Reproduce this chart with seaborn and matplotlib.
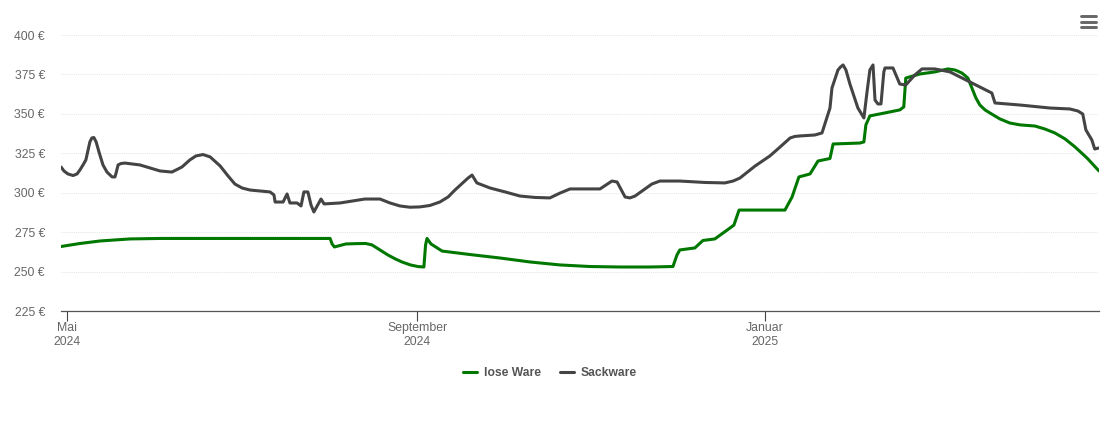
import pandas as pd
import seaborn as sns
import matplotlib.pyplot as plt
import matplotlib.dates as mdates
from matplotlib.lines import Line2D

start = pd.Timestamp("2024-05-01")

# days after 1 May 2024, price in euro
lose_days = [-1.9, 4.7, 11.8, 22.3, 33, 92.5, 93.2, 94, 98, 101.2, 105, 107.2, 110, 112.8, 115.4, 117.7, 120.7, 123.3, 125.4, 126, 126.5, 127.9, 131.8,
             141.6, 152.1, 162.6, 173.2, 183.7, 194.2, 204.7,
             212.8, 214.2, 215.2, 220.5, 223.3, 227.5, 232.8, 234.2, 236, 252.1, 254.6, 257, 260.9, 263.7, 267.9, 269,
             278.4, 279.8, 280.5, 281.9, 287.2, 292.4, 293.8, 294.5, 299.5, 304.7, 309.3, 311.8, 314.2, 316.3, 317.7, 319.1, 320.5, 322.3, 324, 327.5,
             331, 334.6, 339.8, 343.3, 346.8, 350.4, 353.9, 358.1, 362.3]
lose_price = [265.9, 267.8, 269.4, 270.7, 271, 271, 267.5, 265.6, 267.5, 267.7, 267.8, 266.9, 263.7, 260.5, 258, 256.1, 254.2, 253.2, 252.9, 266.9, 271, 267.5, 263,
              260.8, 258.6, 256.1, 254.2, 253.2, 252.9, 252.9,
              253.2, 260.5, 263.7, 265, 269.7, 270.7, 277.6, 279.5, 289, 289, 297.3, 310, 311.9, 320.1, 321.7, 330.9,
              331.5, 332.2, 343, 348.7, 350.6, 352.5, 354.4, 372.7, 375.3, 376.6, 378.5, 377.8, 375.9, 372.7, 366.4, 360.1, 355.6, 352.5, 350.6, 346.8,
              344.2, 343, 342.3, 340.4, 337.9, 334.1, 329, 322, 313.8]

sack_days = [-1.9, -0.9, 0.5, 2.3, 3.7, 4.7, 5.8, 6.8, 7.5, 8.2, 8.9, 9.6, 10.4, 11.4, 12.8, 14.2, 16, 17, 17.4, 18.1, 19.1, 20.5, 25.8, 32.8, 37, 40.5, 43.3, 45.4, 47.9, 50.4, 53.9, 56.7, 59.1, 61.6, 64.4,
             71.4, 72.8, 73.2, 76, 77.4, 78.4, 80.9, 82.3, 83.3, 84.7, 85.8, 86.8, 89.3, 90.4, 96, 104.7, 110, 113.5, 117, 120.5, 124, 127.5,
             131, 133.9, 136.3, 140.9, 142.3, 144, 148.6, 153.9, 159.1, 164.4, 169.6, 173.2, 176.7, 187.2, 191.4, 193.2, 196, 197.7, 199.5, 203, 205.4, 208.2, 215.2,
             224, 231, 233.9, 236.3, 241.6, 246.8, 250.4, 253.9, 255.6, 257.4, 262.6, 265.1, 267.9, 268.6, 270.7, 271.6, 272.5, 273.5, 274.9, 277.7,
             279.8, 280.9, 281.9, 283, 283.7, 284.7, 285.8, 286.8, 287.2, 290, 292.4, 294.5, 297.7, 300.2, 304.7, 310,
             317, 324.7, 325.8, 334.6, 345.1, 352.1, 354.9, 356.6, 357.7, 359.8, 360.8, 362.3]
sack_price = [316.3, 313.8, 311.9, 310.9, 311.9, 314.4, 317.6, 320.8, 326.5, 332.2, 334.7, 335, 332.2, 325.8, 317.6, 313.1, 310, 310, 312.5, 317.6, 318.5, 318.8, 317.6, 313.8, 313.1, 316.3, 320.8, 323.3, 324.2, 322.7, 317, 310.6, 305.5, 303, 301.7,
              300.5, 298.6, 294.1, 294.1, 299.2, 293.5, 293.5, 291.6, 300.5, 300.5, 292.2, 287.8, 296, 292.9, 293.5, 296, 296, 293.5, 291.6, 290.8, 291, 291.9,
              294.1, 297.3, 301.7, 309.3, 311.2, 306.2, 303, 300.5, 297.9, 297, 296.7, 299.8, 302.4, 302.4, 307.4, 306.8, 297.3, 296.7, 297.9, 302.4, 305.5, 307.4, 307.4,
              306.5, 306.2, 307.4, 309.3, 316.9, 323.3, 329, 334.7, 335.7, 336, 336.6, 337.9, 353.7, 366.4, 377.8, 379.7, 381, 377.8, 368.9, 353.7,
              347.4, 363.9, 377.8, 381, 358.8, 356.3, 356.3, 376.6, 379.1, 379.1, 368.9, 368.3, 374.7, 378.5, 378.5, 376.6,
              370.2, 363.2, 356.9, 355.6, 353.7, 353.1, 351.8, 349.9, 339.8, 333.4, 327.7, 328.4]

y_ticks = [225, 250, 275, 300, 325, 350, 375, 400]
x_ticks = ["2024-05-01", "2024-09-01", "2025-01-01"]
x_labels = ["Mai\n2024", "September\n2024", "Januar\n2025"]

lose = pd.DataFrame({"date": start + pd.to_timedelta(lose_days, unit="D"), "price": lose_price})
sack = pd.DataFrame({"date": start + pd.to_timedelta(sack_days, unit="D"), "price": sack_price})

sns.set_style("white")
plt.rcParams["font.family"] = ["Liberation Sans", "DejaVu Sans"]

fig = plt.figure(figsize=(11.1, 4.22), dpi=100)
ax = fig.add_axes([61 / 1110, 1 - 311 / 422, 1038 / 1110, 276 / 422])

sns.lineplot(data=lose, x="date", y="price", color="#007800", linewidth=2.2, ax=ax, zorder=3)
sns.lineplot(data=sack, x="date", y="price", color="#444444", linewidth=2.2, ax=ax, zorder=4)

ax.set_ylim(225, 400)
ax.set_xlim(start + pd.Timedelta(days=-1.93), start + pd.Timedelta(days=362.3))
ax.set_xlabel("")
ax.set_ylabel("")

ax.set_yticks(y_ticks)
ax.set_yticklabels([f"{v} €" for v in y_ticks])
ax.set_xticks(mdates.date2num(pd.to_datetime(x_ticks)))
ax.set_xticklabels(x_labels, linespacing=1.25)
ax.tick_params(axis="y", left=False, pad=8, labelsize=8.8, labelcolor="#666666")
ax.tick_params(axis="x", bottom=True, length=7.2, width=0.8, color="#444444", pad=0.8,
               labelsize=8.8, labelcolor="#666666")

ax.grid(axis="y", color="#e6e6e6", linewidth=0.75, linestyle=(0, (1, 1)))
ax.set_axisbelow(True)
for side in ["top", "left", "right"]:
    ax.spines[side].set_visible(False)
ax.spines["bottom"].set_color("#555555")
ax.spines["bottom"].set_linewidth(0.9)

handles = [Line2D([], [], color="#007800", linewidth=2.2), Line2D([], [], color="#444444", linewidth=2.2)]
leg = fig.legend(handles, ["lose Ware", "Sackware"], loc="center", bbox_to_anchor=(550 / 1110, 1 - 373 / 422),
                 ncol=2, frameon=False, handlelength=1.2, handletextpad=0.55, columnspacing=1.55,
                 prop={"size": 8.7, "weight": "bold"})
for t in leg.get_texts():
    t.set_color("#555555")

# menu icon top right
for py in [16, 21.5, 26.5]:
    fig.add_artist(Line2D([1081 / 1110, 1096 / 1110], [1 - py / 422, 1 - py / 422], color="#666666",
                          linewidth=2.1, solid_capstyle="round"))

fig.savefig("out.png", dpi=100)
